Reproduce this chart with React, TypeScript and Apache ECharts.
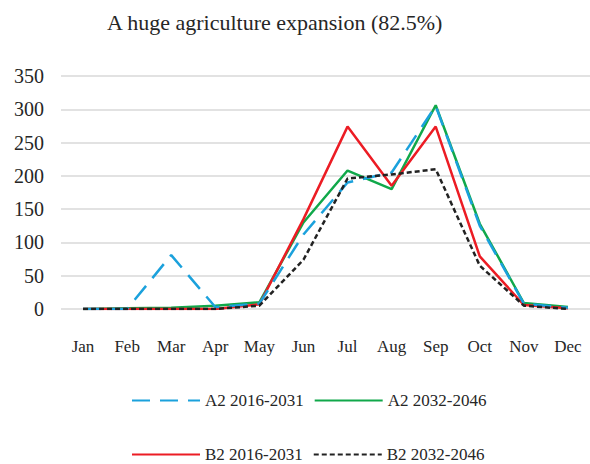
import React, { useEffect, useRef } from "react";
import * as echarts from "echarts";

const months = ["Jan", "Feb", "Mar", "Apr", "May", "Jun", "Jul", "Aug", "Sep", "Oct", "Nov", "Dec"];
const a2Early = [0, 0, 81, 3, 8, 112, 190, 205, 305, 125, 8, 2];
const a2Late = [0, 1, 2, 5, 10, 130, 208, 180, 306, 128, 9, 3];
const b2Early = [0, 0, 0, 0, 7, 135, 274, 185, 274, 79, 6, 1];
const b2Late = [0, 0, 0, 0, 5, 74, 196, 202, 210, 65, 5, 0];
const seriesNames = ["A2 2016-2031", "A2 2032-2046", "B2 2016-2031", "B2 2032-2046"];
const titleText = "A huge agriculture expansion (82.5%)";

const FONT = "Liberation Serif";
const TEXT = "#262626";

export default function App() {
  const ref = useRef<HTMLDivElement>(null);
  useEffect(() => {
    if (!ref.current) return;
    const chart = echarts.init(ref.current, undefined, { renderer: "svg" });
    const legendCommon = {
      orient: "horizontal",
      itemWidth: 68,
      itemHeight: 14,
      itemGap: 10,
      padding: 0,
      itemStyle: { opacity: 0, borderWidth: 0 },
      textStyle: { fontFamily: FONT, fontSize: 17, color: TEXT },
    };
    chart.setOption({
      animation: false,
      backgroundColor: "#ffffff",
      title: {
        text: titleText,
        left: 102,
        top: 6,
        textStyle: { fontFamily: FONT, fontSize: 22, fontWeight: "normal", color: TEXT },
      },
      legend: [
        { ...legendCommon, left: 131, top: 392, data: [seriesNames[0], seriesNames[1]] },
        { ...legendCommon, left: 131, top: 446, data: [seriesNames[2], seriesNames[3]] },
      ],
      grid: { left: 61, top: 76, width: 534, height: 233, containLabel: false },
      xAxis: {
        type: "category",
        data: months,
        boundaryGap: true,
        axisLine: { show: false },
        axisTick: { show: false },
        axisLabel: { fontFamily: FONT, fontSize: 17, color: TEXT, margin: 29, interval: 0 },
      },
      yAxis: {
        type: "value",
        min: 0,
        max: 350,
        interval: 50,
        axisLine: { show: false },
        axisTick: { show: false },
        axisLabel: { fontFamily: FONT, fontSize: 20, color: TEXT, margin: 17 },
        splitLine: { lineStyle: { color: "#d9d9d9", width: 1.5 } },
      },
      series: [
        {
          name: seriesNames[0],
          type: "line",
          data: a2Early,
          symbol: "none",
          z: 4,
          lineStyle: { color: "#1ba1dc", width: 2.5, type: [18, 10] },
          itemStyle: { color: "#1ba1dc" },
        },
        {
          name: seriesNames[1],
          type: "line",
          data: a2Late,
          symbol: "none",
          z: 2,
          lineStyle: { color: "#10a84a", width: 2.5 },
          itemStyle: { color: "#10a84a" },
        },
        {
          name: seriesNames[2],
          type: "line",
          data: b2Early,
          symbol: "none",
          z: 3,
          lineStyle: { color: "#ec1c24", width: 2.5 },
          itemStyle: { color: "#ec1c24" },
        },
        {
          name: seriesNames[3],
          type: "line",
          data: b2Late,
          symbol: "none",
          z: 5,
          lineStyle: { color: "#222222", width: 2.5, type: [5, 3] },
          itemStyle: { color: "#222222" },
        },
      ],
    });
    return () => chart.dispose();
  }, []);
  return (
    <div
      ref={ref}
      style={{ position: "fixed", left: 0, top: 0, width: 590, height: 464, background: "#fff" }}
    />
  );
}
